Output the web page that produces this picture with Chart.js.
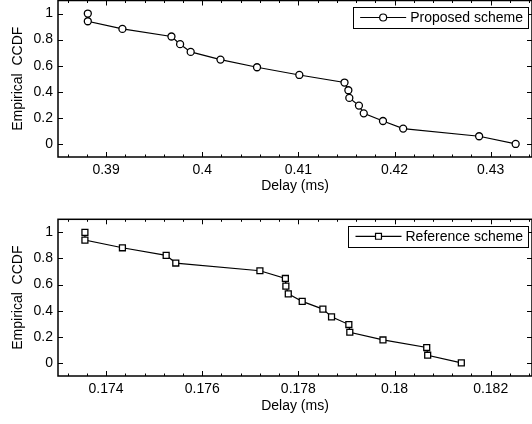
<!DOCTYPE html>
<html>
<head>
<meta charset="utf-8">
<script src="https://cdn.jsdelivr.net/npm/chart.js@4.4.0/dist/chart.umd.min.js"></script>
<style>
body { margin: 0; background: #fff; }
.box { position: absolute; left: 0; width: 532px; }
#box1 { top: 0; height: 210px; }
#box2 { top: 210px; height: 214px; }
</style>
</head>
<body>
<div class="box" id="box1"><canvas id="chart1"></canvas></div>
<div class="box" id="box2"><canvas id="chart2"></canvas></div>
<script>
// empirical CCDF levels (same for both schemes)
var ccdf = [1, 0.941, 0.882, 0.824, 0.765, 0.706, 0.647, 0.588, 0.529, 0.471, 0.412, 0.353, 0.294, 0.235, 0.176, 0.118, 0.059, 0];

// delay (ms)
var proposedDelay = [0.3881, 0.3881, 0.3917, 0.3968, 0.3977, 0.3988, 0.4019, 0.4057, 0.4101, 0.4148, 0.4152, 0.4153, 0.4163, 0.4168, 0.4188, 0.4209, 0.4288, 0.4326];
var referenceDelay = [0.17356, 0.17356, 0.17434, 0.17525, 0.17545, 0.17720, 0.17773, 0.17774, 0.17779, 0.17808, 0.17851, 0.17869, 0.17905, 0.17907, 0.17976, 0.18067, 0.18069, 0.18139];

var yTicks = [0, 0.2, 0.4, 0.6, 0.8, 1];
var proposedTicks = [0.39, 0.40, 0.41, 0.42, 0.43];
var referenceTicks = [0.174, 0.176, 0.178, 0.180, 0.182];

var FONT = 'Liberation Sans, Arial, Helvetica, sans-serif';

function fmt(v) {
  return String(+Number(v).toFixed(4));
}

function noPad(s) {
  s.paddingTop = 0; s.paddingBottom = 0; s.paddingLeft = 0; s.paddingRight = 0;
}

// box around the plot + inward ticks on all four sides (MATLAB style)
var framePlugin = {
  id: 'frame',
  afterDatasetsDraw: function(chart) {
    var ctx = chart.ctx, ca = chart.chartArea;
    var xs = chart.scales.x, ys = chart.scales.y;
    var o = chart.options.plugins.frame;
    ctx.save();
    ctx.strokeStyle = '#000';
    ctx.lineWidth = 1;
    ctx.beginPath();
    var i0 = Math.ceil(xs.min / o.minorStep - 1e-6), i1 = Math.floor(xs.max / o.minorStep + 1e-6);
    for (var i = i0; i <= i1; i++) {
      var v = i * o.minorStep;
      var major = o.major.some(function(m) { return Math.abs(m - v) < o.minorStep / 10; });
      var len = major ? 5 : 2.5;
      var px = Math.round(xs.getPixelForValue(v)) + 0.5;
      ctx.moveTo(px, ca.bottom); ctx.lineTo(px, ca.bottom - len);
      ctx.moveTo(px, ca.top); ctx.lineTo(px, ca.top + len);
    }
    yTicks.forEach(function(v) {
      var py = Math.round(ys.getPixelForValue(v)) + 0.5;
      ctx.moveTo(ca.left, py); ctx.lineTo(ca.left + 5, py);
      ctx.moveTo(ca.right, py); ctx.lineTo(ca.right - 5, py);
    });
    ctx.stroke();
    ctx.lineWidth = 1.5;
    ctx.strokeRect(ca.left, ca.top, ca.right - ca.left, ca.bottom - ca.top);

    // legend box in the top right corner
    var ds = chart.data.datasets[0];
    ctx.font = '14px ' + FONT;
    var tw = ctx.measureText(ds.label).width;
    var right = ca.right - 4, top = ca.top + 6.5, h = 21;
    var tx = right - 5 - tw;
    var lineEnd = tx - 4, lineStart = lineEnd - 46, left = lineStart - 7;
    var cy = top + h / 2;
    ctx.fillStyle = '#fff';
    ctx.fillRect(left, top, right - left, h);
    ctx.lineWidth = 1;
    ctx.strokeRect(Math.round(left) + 0.5, Math.round(top) + 0.5, Math.round(right - left), h);
    ctx.lineWidth = 1.2;
    ctx.beginPath();
    ctx.moveTo(lineStart, cy); ctx.lineTo(lineEnd, cy);
    ctx.stroke();
    var mx = (lineStart + lineEnd) / 2;
    ctx.beginPath();
    if (ds.pointStyle === 'rect') {
      var s = ds.pointRadius * Math.SQRT1_2;
      ctx.rect(mx - s, cy - s, 2 * s, 2 * s);
    } else {
      ctx.arc(mx, cy, ds.pointRadius, 0, Math.PI * 2);
    }
    ctx.fill();
    ctx.stroke();
    ctx.fillStyle = '#000';
    ctx.textBaseline = 'middle';
    ctx.textAlign = 'left';
    ctx.fillText(ds.label, tx, cy + 0.5);
    ctx.restore();
  }
};

function makeChart(id, delays, label, style, radius, xMin, xMax, majors, minorStep, padTop, axisH, titlePad) {
  var points = delays.map(function(d, i) { return { x: d, y: ccdf[i] }; });
  return new Chart(document.getElementById(id), {
    type: 'line',
    data: {
      datasets: [{
        label: label,
        data: points,
        borderColor: '#000',
        borderWidth: 1.2,
        backgroundColor: '#fff',
        pointStyle: style,
        pointRadius: radius,
        pointBorderWidth: 1.3,
        pointBorderColor: '#000',
        pointBackgroundColor: '#fff',
        tension: 0
      }]
    },
    options: {
      responsive: true,
      maintainAspectRatio: false,
      animation: false,
      devicePixelRatio: 1,
      layout: { autoPadding: false, padding: { top: padTop, left: 0, right: 0, bottom: 0 } },
      plugins: {
        legend: { display: false },
        tooltip: { enabled: false },
        frame: { major: majors, minorStep: minorStep }
      },
      scales: {
        x: {
          type: 'linear',
          min: xMin,
          max: xMax,
          afterBuildTicks: function(s) { s.ticks = majors.map(function(v) { return { value: v }; }); },
          afterFit: function(s) { s.height = axisH; noPad(s); },
          grid: { display: false, drawTicks: false },
          border: { display: false },
          ticks: { callback: fmt, color: '#000', font: { family: FONT, size: 14 }, padding: 5, maxRotation: 0, autoSkip: false },
          title: { display: true, text: 'Delay (ms)', color: '#000', font: { family: FONT, size: 14 }, padding: { top: 0, bottom: titlePad } }
        },
        y: {
          min: -0.1,
          max: 1.1,
          afterBuildTicks: function(s) { s.ticks = yTicks.map(function(v) { return { value: v }; }); },
          afterFit: function(s) { s.width = 58; noPad(s); },
          grid: { display: false, drawTicks: false },
          border: { display: false },
          ticks: { callback: fmt, color: '#000', font: { family: FONT, size: 14 }, padding: 5, autoSkip: false },
          title: { display: true, text: 'Empirical  CCDF', color: '#000', font: { family: FONT, size: 14 }, padding: { top: 10, bottom: 0 } }
        }
      }
    },
    plugins: [framePlugin]
  });
}

makeChart('chart1', proposedDelay, 'Proposed scheme', 'circle', 3.5, 0.385, 0.4343, proposedTicks, 0.002, 0.5, 53, 15);
makeChart('chart2', referenceDelay, 'Reference scheme', 'rect', 4.2, 0.173, 0.18286, referenceTicks, 0.0004, 9.3, 48, 9);
</script>
</body>
</html>
